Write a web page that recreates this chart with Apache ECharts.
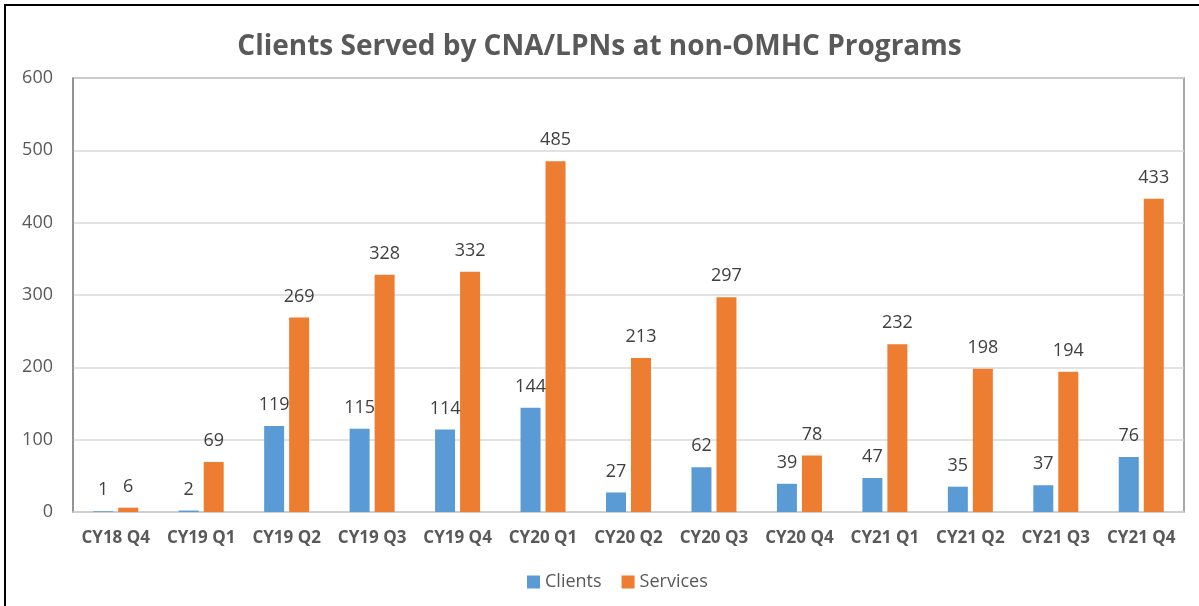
<!DOCTYPE html>
<html>
<head>
<meta charset="utf-8">
<script src="https://cdn.jsdelivr.net/npm/echarts@6/dist/echarts.min.js"></script>
<style>
  html, body { margin: 0; padding: 0; background: #fff; }
  #chart { width: 1199px; height: 606px; }
</style>
</head>
<body>
<div id="chart"></div>
<script>
// quarters
var categories = ["CY18 Q4", "CY19 Q1", "CY19 Q2", "CY19 Q3", "CY19 Q4", "CY20 Q1", "CY20 Q2",
  "CY20 Q3", "CY20 Q4", "CY21 Q1", "CY21 Q2", "CY21 Q3", "CY21 Q4"];
var clients = [1, 2, 119, 115, 114, 144, 27, 62, 39, 47, 35, 37, 76];
var services = [6, 69, 269, 328, 332, 485, 213, 297, 78, 232, 198, 194, 433];
var yTicks = [0, 100, 200, 300, 400, 500, 600];

var font = "Open Sans";
var myChart = echarts.init(document.getElementById("chart"));

myChart.setOption({
  animation: false,
  title: {
    text: "Clients Served by CNA/LPNs at non-OMHC Programs",
    left: "center",
    top: 28,
    textStyle: { fontFamily: font, fontSize: 28, fontWeight: "bold", color: "#595959" },
  },
  legend: {
    bottom: 10,
    left: 522,
    itemWidth: 13,
    itemHeight: 13,
    itemGap: 20,
    icon: "rect",
    textStyle: { fontFamily: font, fontSize: 18, color: "#595959" },
  },
  graphic: [
    {
      type: "rect",
      shape: { x: 5, y: 5, width: 1210, height: 620 },
      style: { fill: "none", stroke: "#000", lineWidth: 2 },
      silent: true,
    },
  ],
  grid: {
    left: 73,
    right: 15,
    top: 78,
    bottom: 94,
    show: true,
    borderColor: "#8c8c8c",
    borderWidth: 1.5,
  },
  xAxis: {
    type: "category",
    data: categories,
    axisTick: { show: false },
    axisLine: { lineStyle: { color: "#d0d0d0", width: 1.5 } },
    axisLabel: {
      interval: 0,
      fontFamily: font, fontSize: 17, fontWeight: "bold", color: "#595959", margin: 18,
    },
  },
  yAxis: {
    type: "value",
    min: yTicks[0],
    max: yTicks[yTicks.length - 1],
    interval: 100,
    axisLine: { show: true, lineStyle: { color: "#8c8c8c", width: 1.5 } },
    axisTick: { show: false },
    splitLine: { lineStyle: { color: "#d9d9d9", width: 1.5 } },
    axisLabel: { fontFamily: font, fontSize: 18, color: "#595959", margin: 20 },
  },
  series: [
    {
      name: "Clients",
      type: "bar",
      data: clients,
      barWidth: 20,
      barGap: "25%",
      itemStyle: { color: "#5b9bd5" },
      label: {
        show: true, position: "top", distance: 12,
        fontFamily: font, fontSize: 18, color: "#404040",
      },
    },
    {
      name: "Services",
      type: "bar",
      data: services,
      barWidth: 20,
      itemStyle: { color: "#ed7d31" },
      label: {
        show: true, position: "top", distance: 12,
        fontFamily: font, fontSize: 18, color: "#404040",
      },
    },
  ],
});
</script>
</body>
</html>
